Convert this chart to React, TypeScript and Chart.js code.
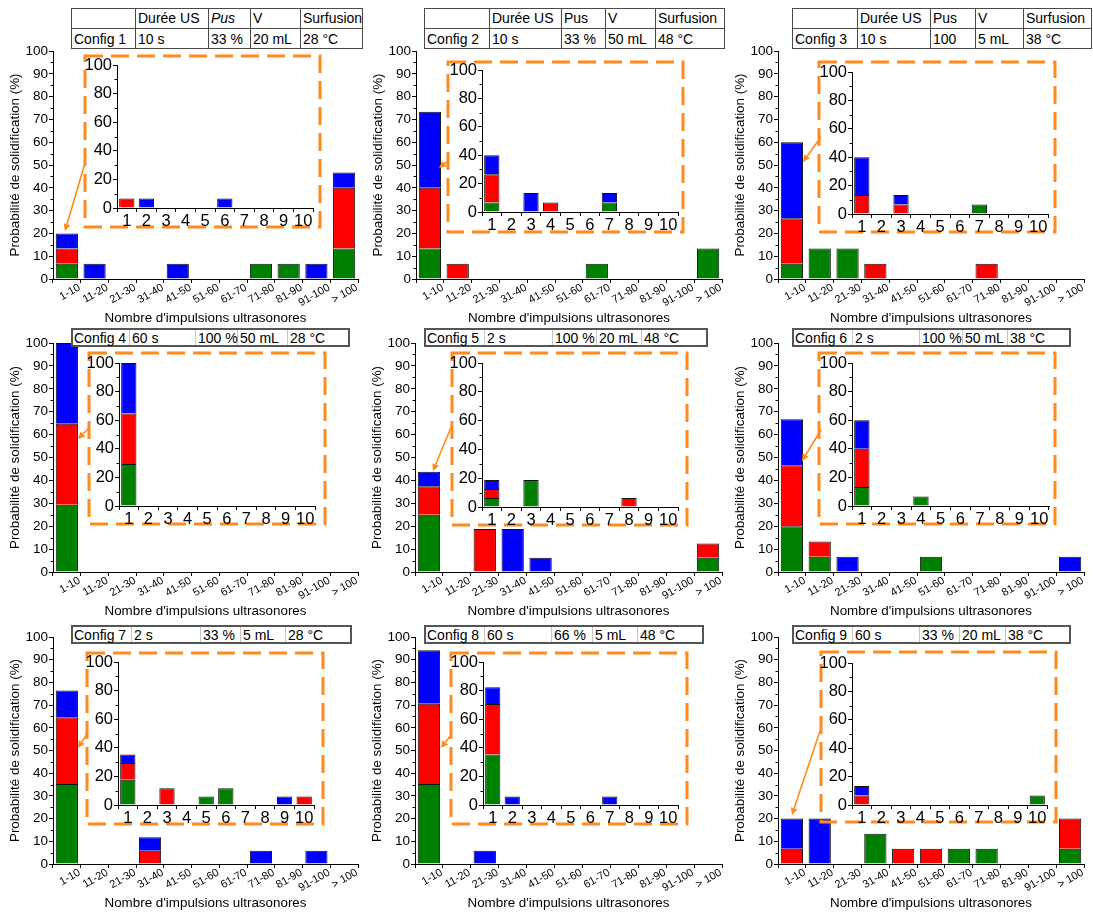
import React, { useEffect, useRef } from 'react';
import { Chart, registerables } from 'chart.js';
Chart.register(...registerables);

const FONT = "'Liberation Sans', Arial, Helvetica, sans-serif";
const ORANGE = '#FF8A1E';
const GREEN = '#008000';
const RED = '#FF0000';
const BLUE = '#0000FF';

// ---------- categories / tick labels / texts ----------
const mainCategories = ['1-10', '11-20', '21-30', '31-40', '41-50', '51-60', '61-70', '71-80', '81-90', '91-100', '> 100'];
const insetCategories = ['1', '2', '3', '4', '5', '6', '7', '8', '9', '10'];
const mainYTicks = [0, 10, 20, 30, 40, 50, 60, 70, 80, 90, 100];
const insetYTicks = [0, 20, 40, 60, 80, 100];
const yTitle = 'Probabilité de solidification (%)';
const xTitle = "Nombre d'impulsions ultrasonores";
const tableHeader = ['', 'Durée US', 'Pus', 'V', 'Surfusion'];
const configNames = ['Config 1', 'Config 2', 'Config 3', 'Config 4', 'Config 5', 'Config 6', 'Config 7', 'Config 8', 'Config 9'];
const durations = ['10 s', '10 s', '10 s', '60 s', '2 s', '2 s', '2 s', '60 s', '60 s'];
const powers = ['33 %', '33 %', '100', '100 %', '100 %', '100 %', '33 %', '66 %', '33 %'];
const volumes = ['20 mL', '50 mL', '5 mL', '50 mL', '20 mL', '50 mL', '5 mL', '5 mL', '20 mL'];
const undercooling = ['28 °C', '48 °C', '38 °C', '28 °C', '48 °C', '38 °C', '28 °C', '48 °C', '38 °C'];

// ---------- data (green / red / blue) ----------
const c1MainGreen = [6.67, 0, 0, 0, 0, 0, 0, 6.67, 6.67, 0, 13.33];
const c1MainRed = [6.67, 0, 0, 0, 0, 0, 0, 0, 0, 0, 26.67];
const c1MainBlue = [6.67, 6.67, 0, 0, 6.67, 0, 0, 0, 0, 6.67, 6.67];
const c1InsetGreen = [0, 0, 0, 0, 0, 0, 0, 0, 0, 0];
const c1InsetRed = [6.67, 0, 0, 0, 0, 0, 0, 0, 0, 0];
const c1InsetBlue = [0, 6.67, 0, 0, 0, 6.67, 0, 0, 0, 0];

const c2MainGreen = [13.33, 0, 0, 0, 0, 0, 6.67, 0, 0, 0, 13.33];
const c2MainRed = [26.67, 6.67, 0, 0, 0, 0, 0, 0, 0, 0, 0];
const c2MainBlue = [33.33, 0, 0, 0, 0, 0, 0, 0, 0, 0, 0];
const c2InsetGreen = [6.67, 0, 0, 0, 0, 0, 6.67, 0, 0, 0];
const c2InsetRed = [20, 0, 0, 6.67, 0, 0, 0, 0, 0, 0];
const c2InsetBlue = [13.33, 0, 13.33, 0, 0, 0, 6.67, 0, 0, 0];

const c3MainGreen = [6.67, 13.33, 13.33, 0, 0, 0, 0, 0, 0, 0, 0];
const c3MainRed = [20, 0, 0, 6.67, 0, 0, 0, 6.67, 0, 0, 0];
const c3MainBlue = [33.33, 0, 0, 0, 0, 0, 0, 0, 0, 0, 0];
const c3InsetGreen = [0, 0, 0, 0, 0, 0, 6.67, 0, 0, 0];
const c3InsetRed = [13.33, 0, 6.67, 0, 0, 0, 0, 0, 0, 0];
const c3InsetBlue = [26.67, 0, 6.67, 0, 0, 0, 0, 0, 0, 0];

const c4MainGreen = [29.41, 0, 0, 0, 0, 0, 0, 0, 0, 0, 0];
const c4MainRed = [35.29, 0, 0, 0, 0, 0, 0, 0, 0, 0, 0];
const c4MainBlue = [35.29, 0, 0, 0, 0, 0, 0, 0, 0, 0, 0];
const c4InsetGreen = [29.41, 0, 0, 0, 0, 0, 0, 0, 0, 0];
const c4InsetRed = [35.29, 0, 0, 0, 0, 0, 0, 0, 0, 0];
const c4InsetBlue = [35.29, 0, 0, 0, 0, 0, 0, 0, 0, 0];

const c5MainGreen = [25, 0, 0, 0, 0, 0, 0, 0, 0, 0, 6.25];
const c5MainRed = [12.5, 0, 18.75, 0, 0, 0, 0, 0, 0, 0, 6.25];
const c5MainBlue = [6.25, 0, 0, 18.75, 6.25, 0, 0, 0, 0, 0, 0];
const c5InsetGreen = [6.25, 0, 18.75, 0, 0, 0, 0, 0, 0, 0];
const c5InsetRed = [6.25, 0, 0, 0, 0, 0, 0, 6.25, 0, 0];
const c5InsetBlue = [6.25, 0, 0, 0, 0, 0, 0, 0, 0, 0];

const c6MainGreen = [20, 6.67, 0, 0, 0, 6.67, 0, 0, 0, 0, 0];
const c6MainRed = [26.67, 6.67, 0, 0, 0, 0, 0, 0, 0, 0, 0];
const c6MainBlue = [20, 0, 6.67, 0, 0, 0, 0, 0, 0, 0, 6.67];
const c6InsetGreen = [13.33, 0, 0, 6.67, 0, 0, 0, 0, 0, 0];
const c6InsetRed = [26.67, 0, 0, 0, 0, 0, 0, 0, 0, 0];
const c6InsetBlue = [20, 0, 0, 0, 0, 0, 0, 0, 0, 0];

const c7MainGreen = [35.29, 0, 0, 0, 0, 0, 0, 0, 0, 0, 0];
const c7MainRed = [29.41, 0, 0, 5.88, 0, 0, 0, 0, 0, 0, 0];
const c7MainBlue = [11.76, 0, 0, 5.88, 0, 0, 0, 5.88, 0, 5.88, 0];
const c7InsetGreen = [17.65, 0, 0, 0, 5.88, 11.76, 0, 0, 0, 0];
const c7InsetRed = [11.76, 0, 11.76, 0, 0, 0, 0, 0, 0, 5.88];
const c7InsetBlue = [5.88, 0, 0, 0, 0, 0, 0, 0, 5.88, 0];

const c8MainGreen = [35.29, 0, 0, 0, 0, 0, 0, 0, 0, 0, 0];
const c8MainRed = [35.29, 0, 0, 0, 0, 0, 0, 0, 0, 0, 0];
const c8MainBlue = [23.53, 0, 5.88, 0, 0, 0, 0, 0, 0, 0, 0];
const c8InsetGreen = [35.29, 0, 0, 0, 0, 0, 0, 0, 0, 0];
const c8InsetRed = [35.29, 0, 0, 0, 0, 0, 0, 0, 0, 0];
const c8InsetBlue = [11.76, 5.88, 0, 0, 0, 0, 5.88, 0, 0, 0];

const c9MainGreen = [0, 0, 0, 13.33, 0, 0, 6.67, 6.67, 0, 0, 6.67];
const c9MainRed = [6.67, 0, 0, 0, 6.67, 6.67, 0, 0, 0, 0, 13.33];
const c9MainBlue = [13.33, 20, 0, 0, 0, 0, 0, 0, 0, 0, 0];
const c9InsetGreen = [0, 0, 0, 0, 0, 0, 0, 0, 0, 6.67];
const c9InsetRed = [6.67, 0, 0, 0, 0, 0, 0, 0, 0, 0];
const c9InsetBlue = [6.67, 0, 0, 0, 0, 0, 0, 0, 0, 0];

const mainSeries = [
  [c1MainGreen, c1MainRed, c1MainBlue],
  [c2MainGreen, c2MainRed, c2MainBlue],
  [c3MainGreen, c3MainRed, c3MainBlue],
  [c4MainGreen, c4MainRed, c4MainBlue],
  [c5MainGreen, c5MainRed, c5MainBlue],
  [c6MainGreen, c6MainRed, c6MainBlue],
  [c7MainGreen, c7MainRed, c7MainBlue],
  [c8MainGreen, c8MainRed, c8MainBlue],
  [c9MainGreen, c9MainRed, c9MainBlue],
];
const insetSeries = [
  [c1InsetGreen, c1InsetRed, c1InsetBlue],
  [c2InsetGreen, c2InsetRed, c2InsetBlue],
  [c3InsetGreen, c3InsetRed, c3InsetBlue],
  [c4InsetGreen, c4InsetRed, c4InsetBlue],
  [c5InsetGreen, c5InsetRed, c5InsetBlue],
  [c6InsetGreen, c6InsetRed, c6InsetBlue],
  [c7InsetGreen, c7InsetRed, c7InsetBlue],
  [c8InsetGreen, c8InsetRed, c8InsetBlue],
  [c9InsetGreen, c9InsetRed, c9InsetBlue],
];

// ---------- layout (page pixels) ----------
const LAYOUT = [
  { main: [53, 51, 358, 279], inset: [117, 65, 313, 208], box: [85, 56, 320, 227], arrow: [85, 163, 65, 231], tx: [71, 135, 208, 250, 300, 363], ty: [8, 28, 49], italic: 2 },
  { main: [416, 51, 722, 279], inset: [482, 70, 678, 212], box: [448, 62, 683, 232], arrow: [448, 161, 439, 168], tx: [424, 489, 561, 605, 655, 725], ty: [8, 28, 49], italic: -1 },
  { main: [778, 51, 1084, 279], inset: [852, 72, 1048, 214], box: [819, 62, 1055, 232], arrow: [821, 137, 803, 162], tx: [792, 857, 930, 975, 1023, 1092], ty: [8, 28, 49], italic: -1 },
  { main: [53, 343, 358, 572], inset: [119, 363, 315, 506], box: [89, 353, 325, 524], arrow: [89, 428, 78, 439], tx: [71, 129, 195, 237, 287, 350], ty: [328, 347], italic: -1 },
  { main: [415, 343, 722, 572], inset: [482, 363, 678, 507], box: [452, 353, 687, 525], arrow: [452, 425, 433, 471], tx: [424, 484, 552, 596, 641, 708], ty: [328, 347], italic: -1 },
  { main: [778, 343, 1084, 572], inset: [852, 363, 1049, 506], box: [819, 353, 1055, 524], arrow: [821, 430, 802, 461], tx: [792, 852, 919, 962, 1007, 1071], ty: [328, 347], italic: -1 },
  { main: [53, 637, 358, 864], inset: [118, 662, 314, 805], box: [87, 653, 323, 824], arrow: [87, 734, 78, 748], tx: [71, 131, 200, 240, 285, 352], ty: [625, 644], italic: -1 },
  { main: [415, 637, 722, 864], inset: [483, 662, 678, 805], box: [451, 653, 687, 824], arrow: [451, 735, 441, 748], tx: [424, 484, 551, 592, 637, 704], ty: [625, 644], italic: -1 },
  { main: [778, 637, 1084, 864], inset: [852, 663, 1047, 805], box: [821, 652, 1056, 822], arrow: [820, 731, 792, 815], tx: [792, 852, 919, 959, 1005, 1071], ty: [625, 644], italic: -1 },
];

const MAIN_YW = 53, MAIN_PT = 10, MAIN_PR = 4, MAIN_XH = 50;
const INS_YW = 34, INS_PT = 12, INS_PR = 8, INS_XH = 26;

function buildDatasets(series: number[][], barPct: number) {
  const colors = [GREEN, RED, BLUE];
  return series.map((arr, k) => ({
    data: arr.map((v) => (v === 0 ? null : v)),
    backgroundColor: colors[k],
    borderColor: '#111',
    borderWidth: 1,
    borderSkipped: 'start',
    barPercentage: barPct,
    categoryPercentage: 1,
  }));
}

function minorTicksPlugin(step: number, major: number, len: number) {
  return {
    id: 'minorTicks',
    afterDraw(chart: any) {
      const y = chart.scales.y;
      const ctx = chart.ctx;
      const x0 = chart.chartArea.left;
      ctx.save();
      ctx.strokeStyle = '#000';
      ctx.lineWidth = 1;
      for (let v = step; v < 100; v += step) {
        if (v % major === 0) continue;
        const py = Math.round(y.getPixelForValue(v)) + 0.5;
        ctx.beginPath();
        ctx.moveTo(x0 - len, py);
        ctx.lineTo(x0, py);
        ctx.stroke();
      }
      ctx.restore();
    },
  };
}

const rotatedLabelsPlugin = {
  id: 'rotLabels',
  afterDraw(chart: any) {
    const xs = chart.scales.x;
    const ctx = chart.ctx;
    ctx.save();
    ctx.font = `11px ${FONT}`;
    ctx.fillStyle = '#000';
    ctx.textAlign = 'right';
    ctx.textBaseline = 'top';
    mainCategories.forEach((lab, i) => {
      const px = xs.getPixelForValue(i);
      ctx.save();
      ctx.translate(px + 10, xs.top + 3);
      ctx.rotate((-30 * Math.PI) / 180);
      ctx.fillText(lab, 0, 0);
      ctx.restore();
    });
    ctx.restore();
  },
};

function overlayPlugin(box: number[], arrow: number[], ox: number, oy: number) {
  return {
    id: 'overlay',
    afterDraw(chart: any) {
      const ctx = chart.ctx;
      ctx.save();
      ctx.translate(-ox, -oy);
      ctx.strokeStyle = ORANGE;
      ctx.fillStyle = ORANGE;
      ctx.lineWidth = 3;
      ctx.setLineDash([18, 8]);
      ctx.strokeRect(box[0], box[1], box[2] - box[0], box[3] - box[1]);
      ctx.setLineDash([]);
      const [x1, y1, x2, y2] = arrow;
      const ang = Math.atan2(y2 - y1, x2 - x1);
      const hl = 7, hw = 3.5;
      const bx = x2 - hl * Math.cos(ang);
      const by = y2 - hl * Math.sin(ang);
      ctx.lineWidth = 1.6;
      ctx.beginPath();
      ctx.moveTo(x1, y1);
      ctx.lineTo(bx, by);
      ctx.stroke();
      ctx.beginPath();
      ctx.moveTo(x2, y2);
      ctx.lineTo(bx + hw * Math.sin(ang), by - hw * Math.cos(ang));
      ctx.lineTo(bx - hw * Math.sin(ang), by + hw * Math.cos(ang));
      ctx.closePath();
      ctx.fill();
      ctx.restore();
    },
  };
}

function ChartCanvas({ left, top, width, height, makeConfig }: any) {
  const ref = useRef<HTMLCanvasElement | null>(null);
  useEffect(() => {
    if (!ref.current) return;
    const chart = new Chart(ref.current, makeConfig());
    return () => chart.destroy();
  }, []);
  return (
    <canvas
      ref={ref}
      width={width}
      height={height}
      style={{ position: 'absolute', left, top, width, height }}
    />
  );
}

function mainConfig(idx: number, ox: number, oy: number) {
  const L = LAYOUT[idx];
  return {
    type: 'bar',
    data: { labels: mainCategories, datasets: buildDatasets(mainSeries[idx], 0.8) },
    options: {
      responsive: false,
      animation: false,
      events: [],
      layout: { padding: { top: MAIN_PT, right: MAIN_PR, left: 0, bottom: 0 } },
      plugins: { legend: { display: false }, tooltip: { enabled: false }, title: { display: false } },
      scales: {
        x: {
          type: 'category',
          stacked: true,
          offset: true,
          grid: { offset: true, drawOnChartArea: false, drawTicks: true, tickLength: 4, color: '#000', lineWidth: 1 },
          border: { display: true, color: '#000', width: 1 },
          ticks: { display: false },
          title: { display: true, text: xTitle, color: '#000', font: { family: FONT, size: 13.4 }, padding: { top: 0, bottom: 3 } },
          afterFit: (s: any) => { s.height = MAIN_XH; },
        },
        y: {
          stacked: true,
          min: 0,
          max: 100,
          afterBuildTicks: (s: any) => { s.ticks = mainYTicks.map((v) => ({ value: v })); },
          ticks: { color: '#000', font: { family: FONT, size: 13.5 }, padding: 1, autoSkip: false },
          grid: { drawOnChartArea: false, drawTicks: true, tickLength: 4, color: '#000', lineWidth: 1 },
          border: { display: true, color: '#000', width: 1 },
          title: { display: true, text: yTitle, color: '#000', font: { family: FONT, size: 13.4 }, padding: { top: 7, bottom: 0 } },
          afterFit: (s: any) => { s.width = MAIN_YW; },
        },
      },
    },
    plugins: [minorTicksPlugin(5, 10, 2.5), rotatedLabelsPlugin, overlayPlugin(L.box, L.arrow, ox, oy)],
  };
}

function insetConfig(idx: number) {
  return {
    type: 'bar',
    data: { labels: insetCategories, datasets: buildDatasets(insetSeries[idx], 0.78) },
    options: {
      responsive: false,
      animation: false,
      events: [],
      layout: { padding: { top: INS_PT, right: INS_PR, left: 0, bottom: 0 } },
      plugins: { legend: { display: false }, tooltip: { enabled: false }, title: { display: false } },
      scales: {
        x: {
          type: 'category',
          stacked: true,
          offset: true,
          grid: { offset: true, drawOnChartArea: false, drawTicks: true, tickLength: 4, color: '#000', lineWidth: 1 },
          border: { display: true, color: '#000', width: 1 },
          ticks: { color: '#000', font: { family: FONT, size: 16.5 }, padding: 0, autoSkip: false, maxRotation: 0, minRotation: 0 },
          afterFit: (s: any) => { s.height = INS_XH; },
        },
        y: {
          stacked: true,
          min: 0,
          max: 100,
          afterBuildTicks: (s: any) => { s.ticks = insetYTicks.map((v) => ({ value: v })); },
          ticks: { color: '#000', font: { family: FONT, size: 16.5 }, padding: 1, autoSkip: false },
          grid: { drawOnChartArea: false, drawTicks: true, tickLength: 4, color: '#000', lineWidth: 1 },
          border: { display: true, color: '#000', width: 1 },
          afterFit: (s: any) => { s.width = INS_YW; },
        },
      },
    },
    plugins: [minorTicksPlugin(10, 20, 2.5)],
  };
}

function InfoTable({ idx }: { idx: number }) {
  const L = LAYOUT[idx];
  const cols = L.tx;
  const rows = L.ty;
  const twoRow = rows.length === 3;
  const dataRow = [configNames[idx], durations[idx], powers[idx], volumes[idx], undercooling[idx]];
  const textRows = twoRow ? [tableHeader, dataRow] : [dataRow];
  const outerColor = twoRow ? '#4a4a4a' : '#555';
  const outerW = twoRow ? 1 : 2;
  const innerColor = twoRow ? '#4a4a4a' : '#c4c4c4';
  const x0 = cols[0], y0 = rows[0];
  const W = cols[cols.length - 1] - x0;
  const H = rows[rows.length - 1] - y0;
  const els: any[] = [];
  els.push(
    <div key="bg" style={{ position: 'absolute', left: x0, top: y0, width: W, height: H, background: '#fff', border: `${outerW}px solid ${outerColor}`, boxSizing: 'border-box' }} />
  );
  for (let c = 1; c < cols.length - 1; c++) {
    els.push(
      <div key={'v' + c} style={{ position: 'absolute', left: cols[c], top: y0 + outerW, width: 1, height: H - 2 * outerW, background: innerColor }} />
    );
  }
  if (twoRow) {
    els.push(<div key="h" style={{ position: 'absolute', left: x0, top: rows[1], width: W, height: 1, background: innerColor }} />);
  }
  textRows.forEach((row, r) => {
    row.forEach((txt, c) => {
      if (!txt) return;
      const italic = twoRow && r === 0 && c === L.italic;
      els.push(
        <div
          key={`t${r}-${c}`}
          style={{
            position: 'absolute',
            left: cols[c] + 3,
            top: rows[r],
            height: rows[r + 1] - rows[r],
            lineHeight: `${rows[r + 1] - rows[r] + 1}px`,
            fontSize: 14,
            fontFamily: FONT,
            fontStyle: italic ? 'italic' : 'normal',
            color: '#000',
            whiteSpace: 'nowrap',
          }}
        >
          {txt}
        </div>
      );
    });
  });
  return <>{els}</>;
}

function Panel({ idx }: { idx: number }) {
  const L = LAYOUT[idx];
  const [ml, mt, mr, mb] = L.main;
  const mLeft = ml - MAIN_YW;
  const mTop = mt - MAIN_PT;
  const mW = mr - ml + MAIN_YW + MAIN_PR;
  const mH = mb - mt + MAIN_PT + MAIN_XH;
  const [il, it, ir, ib] = L.inset;
  const iLeft = il - INS_YW;
  const iTop = it - INS_PT;
  const iW = ir - il + INS_YW + INS_PR;
  const iH = ib - it + INS_PT + INS_XH;
  return (
    <>
      <ChartCanvas left={mLeft} top={mTop} width={mW} height={mH} makeConfig={() => mainConfig(idx, mLeft, mTop)} />
      <ChartCanvas left={iLeft} top={iTop} width={iW} height={iH} makeConfig={() => insetConfig(idx)} />
      <InfoTable idx={idx} />
    </>
  );
}

export default function App() {
  return (
    <div style={{ position: 'absolute', left: 0, top: 0, width: 1093, height: 913, background: '#fff', overflow: 'hidden', fontFamily: FONT }}>
      {LAYOUT.map((_, i) => (
        <Panel key={i} idx={i} />
      ))}
    </div>
  );
}
